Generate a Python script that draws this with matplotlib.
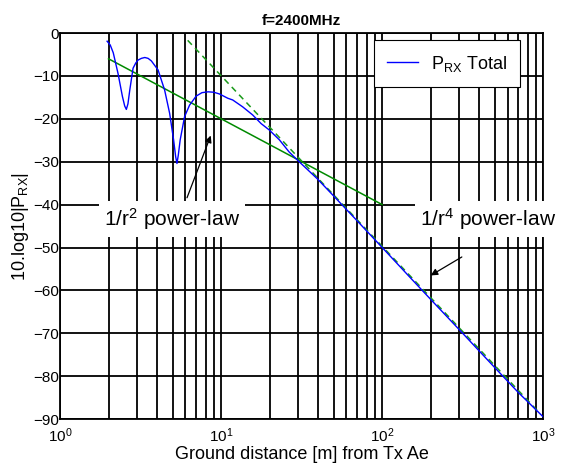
import numpy as np
import matplotlib
matplotlib.use('Agg')
import matplotlib.pyplot as plt

plt.rcParams['font.family'] = ['Liberation Sans', 'DejaVu Sans']
plt.rcParams['mathtext.fontset'] = 'custom'
plt.rcParams['mathtext.rm'] = 'Liberation Sans'
plt.rcParams['mathtext.it'] = 'Liberation Sans:italic'
plt.rcParams['mathtext.bf'] = 'Liberation Sans:bold'

# received power, two-ray model
dist_total = [1.96, 2.05, 2.14, 2.29, 2.44, 2.52, 2.58, 2.64, 2.71, 2.84, 2.95, 3.05,
              3.2, 3.36, 3.52, 3.69, 4.06, 4.46, 4.79, 5.07, 5.22, 5.32, 5.42,
              5.57, 5.93, 6.37, 7.0, 7.6, 8.3, 9.0, 9.76, 11.0, 11.8, 13.6,
              15.7, 17.7, 19.9, 23.0, 26.4, 30.5, 39.6, 50, 70, 100, 150, 200,
              300, 500, 700, 1000]
p_total = [-1.9, -2.8, -4.6, -9.4, -14.8, -17.0, -17.8, -16.5, -13.3, -8.2, -7.0, -6.3,
           -5.9, -5.7, -5.9, -6.5, -8.6, -13.3, -18.7, -24.9, -28.8, -30.4, -28.5,
           -24.9, -19.5, -16.8, -14.7, -13.9, -13.7, -13.8, -14.2, -15.2, -15.6, -17.2,
           -19.1, -21.1, -22.6, -24.9, -27.7, -30.0, -34.0, -38.0, -43.8, -50.0, -57.1, -62.1,
           -69.1, -78.0, -83.8, -89.5]

# asymptotes
dist_r2 = [2, 100]
p_r2 = [-6.0, -40.0]
dist_r4 = [6.2, 950]
p_r4 = [-1.7, -88.6]

fig = plt.figure(figsize=(5.61, 4.72), dpi=100)
ax = fig.add_axes([0.107, 0.112, 0.8615, 0.818])

ax.plot(dist_total, p_total, color='#0000ff', lw=1.0, label=r'P$_{\mathrm{RX}}$ Total', zorder=4)
ax.plot(dist_r2, p_r2, color='#008a00', lw=1.1, zorder=3)
ax.plot(dist_r4, p_r4, color='#1a9a1a', lw=1.1, ls=(0, (4, 3)), zorder=3)

ax.set_xscale('log')
ax.set_xlim(1, 1000)
ax.set_ylim(-90, 0)
ax.set_yticks(np.arange(-90, 1, 10))

ax.grid(True, which='both', axis='x', color='black', lw=1.3)
ax.grid(True, which='major', axis='y', color='black', lw=1.3)
ax.set_axisbelow(True)
for s in ax.spines.values():
    s.set_linewidth(1.3)
ax.tick_params(which='both', length=0, labelsize=11)
ax.tick_params(axis='y', pad=1)
ax.tick_params(axis='x', pad=5)

ax.set_xlabel('Ground distance [m] from Tx Ae', fontsize=13, labelpad=1)
ax.set_ylabel(r'10.log10|P$_{\mathrm{RX}}$|', fontsize=13, labelpad=1)
ax.set_title('f=2400MHz', fontsize=11, fontweight='bold', pad=6)

leg = ax.legend(loc='upper right', bbox_to_anchor=(0.952, 0.982), fontsize=13,
                fancybox=False, framealpha=1, edgecolor='black', handlelength=1.7,
                borderpad=0.75, borderaxespad=0, handletextpad=0.7)
leg.get_frame().set_linewidth(0.8)

box = dict(boxstyle='square,pad=0.25', fc='white', ec='none')
arrow = dict(arrowstyle='-|>', color='black', lw=0.9, mutation_scale=10, shrinkA=0, shrinkB=0)
ax.annotate('', xy=(8.62, -23.9), xytext=(6.14, -38.4), arrowprops=arrow, zorder=6)
ax.annotate('', xy=(200, -56.5), xytext=(312, -52.2), arrowprops=arrow, zorder=6)
ax.text(4.96, -43.3, r'1/r$^{2}$ power-law', fontsize=15, ha='center', va='center',
        bbox=box, zorder=7, clip_on=False)
ax.text(454, -43.3, r'1/r$^{4}$ power-law', fontsize=15, ha='center', va='center',
        bbox=box, zorder=7, clip_on=False)

plt.savefig('out.png', dpi=100)
